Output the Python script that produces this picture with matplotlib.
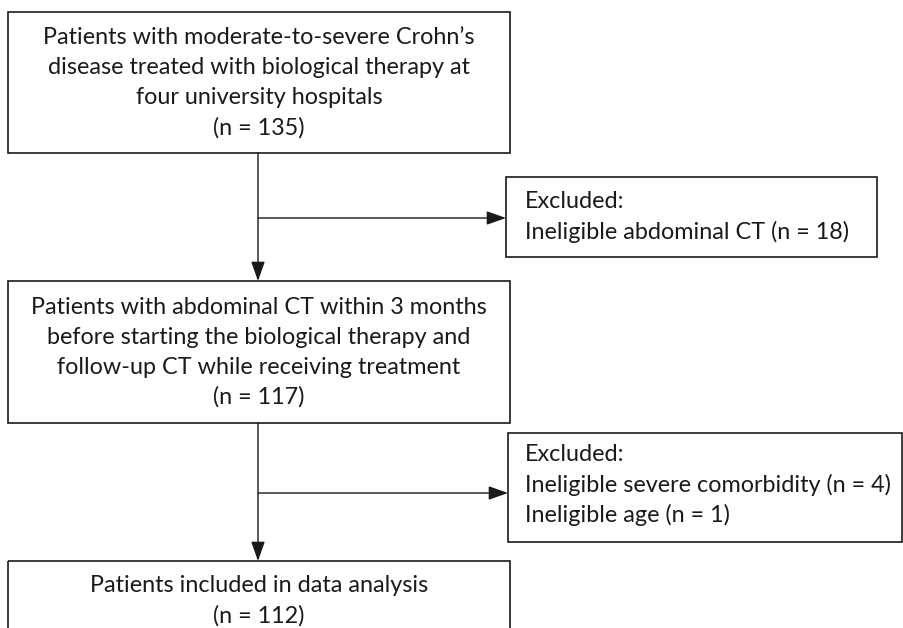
import matplotlib.pyplot as plt
from matplotlib.patches import Rectangle

plt.rcParams['font.family'] = ['Lato', 'DejaVu Sans']

# flowchart content
main_labels = [
    ["Patients with moderate-to-severe Crohn\u2019s",
     "disease treated with biological therapy at",
     "four university hospitals"],
    ["Patients with abdominal CT within 3 months",
     "before starting the biological therapy and",
     "follow-up CT while receiving treatment"],
    ["Patients included in data analysis"],
]
main_n = [135, 117, 112]

excl_reasons = [
    ["Ineligible abdominal CT"],
    ["Ineligible severe comorbidity", "Ineligible age"],
]
excl_n = [[18], [4, 1]]

# layout in pixel coords (y grows downward)
main_boxes = [(8, 12, 510, 153), (8, 281, 510, 423), (8, 561, 510, 660)]
excl_boxes = [(506, 177, 877, 257), (508, 433, 902, 542)]
branch_y = [218, 493]
stem_x = 258
fs = 16.8
lh = 30
col = '#1a1a1a'

fig = plt.figure(figsize=(9.04, 6.28), dpi=100)
ax = fig.add_axes([0, 0, 1, 1])
ax.set_xlim(0, 904)
ax.set_ylim(628, 0)
ax.axis('off')

def box(x0, y0, x1, y1):
    ax.add_patch(Rectangle((x0, y0), x1 - x0, y1 - y0, fill=False,
                           ec=col, lw=1.2))

def arrow(x0, y0, x1, y1):
    ax.annotate('', xy=(x1, y1), xytext=(x0, y0),
                arrowprops=dict(arrowstyle='-|>,head_length=0.85,head_width=0.3',
                                color=col, lw=1.0, shrinkA=0, shrinkB=0,
                                mutation_scale=14))

for i, (b, lines, n) in enumerate(zip(main_boxes, main_labels, main_n)):
    box(*b)
    txt = lines + [f"(n = {n})"]
    if i < 2:
        cy = (b[1] + b[3]) / 2
    else:
        cy = 601
    start = cy - lh * (len(txt) - 1) / 2
    for k, t in enumerate(txt):
        ax.text((b[0] + b[2]) / 2, start + k * lh, t, ha='center', va='center',
                fontsize=fs, color=col)

for b, reasons, ns, by in zip(excl_boxes, excl_reasons, excl_n, branch_y):
    box(*b)
    txt = ["Excluded:"] + [f"{r} (n = {n})" for r, n in zip(reasons, ns)]
    cy = (b[1] + b[3]) / 2 - (3 if len(txt) > 2 else 0)
    start = cy - lh * (len(txt) - 1) / 2
    for k, t in enumerate(txt):
        ax.text(525, start + k * lh, t, ha='left', va='center',
                fontsize=fs, color=col)
    arrow(stem_x, by, b[0], by)

# vertical arrows between main boxes
for a, b in zip(main_boxes[:-1], main_boxes[1:]):
    arrow(stem_x, a[3], stem_x, b[1])

fig.savefig('out.png', dpi=100, facecolor='white')
